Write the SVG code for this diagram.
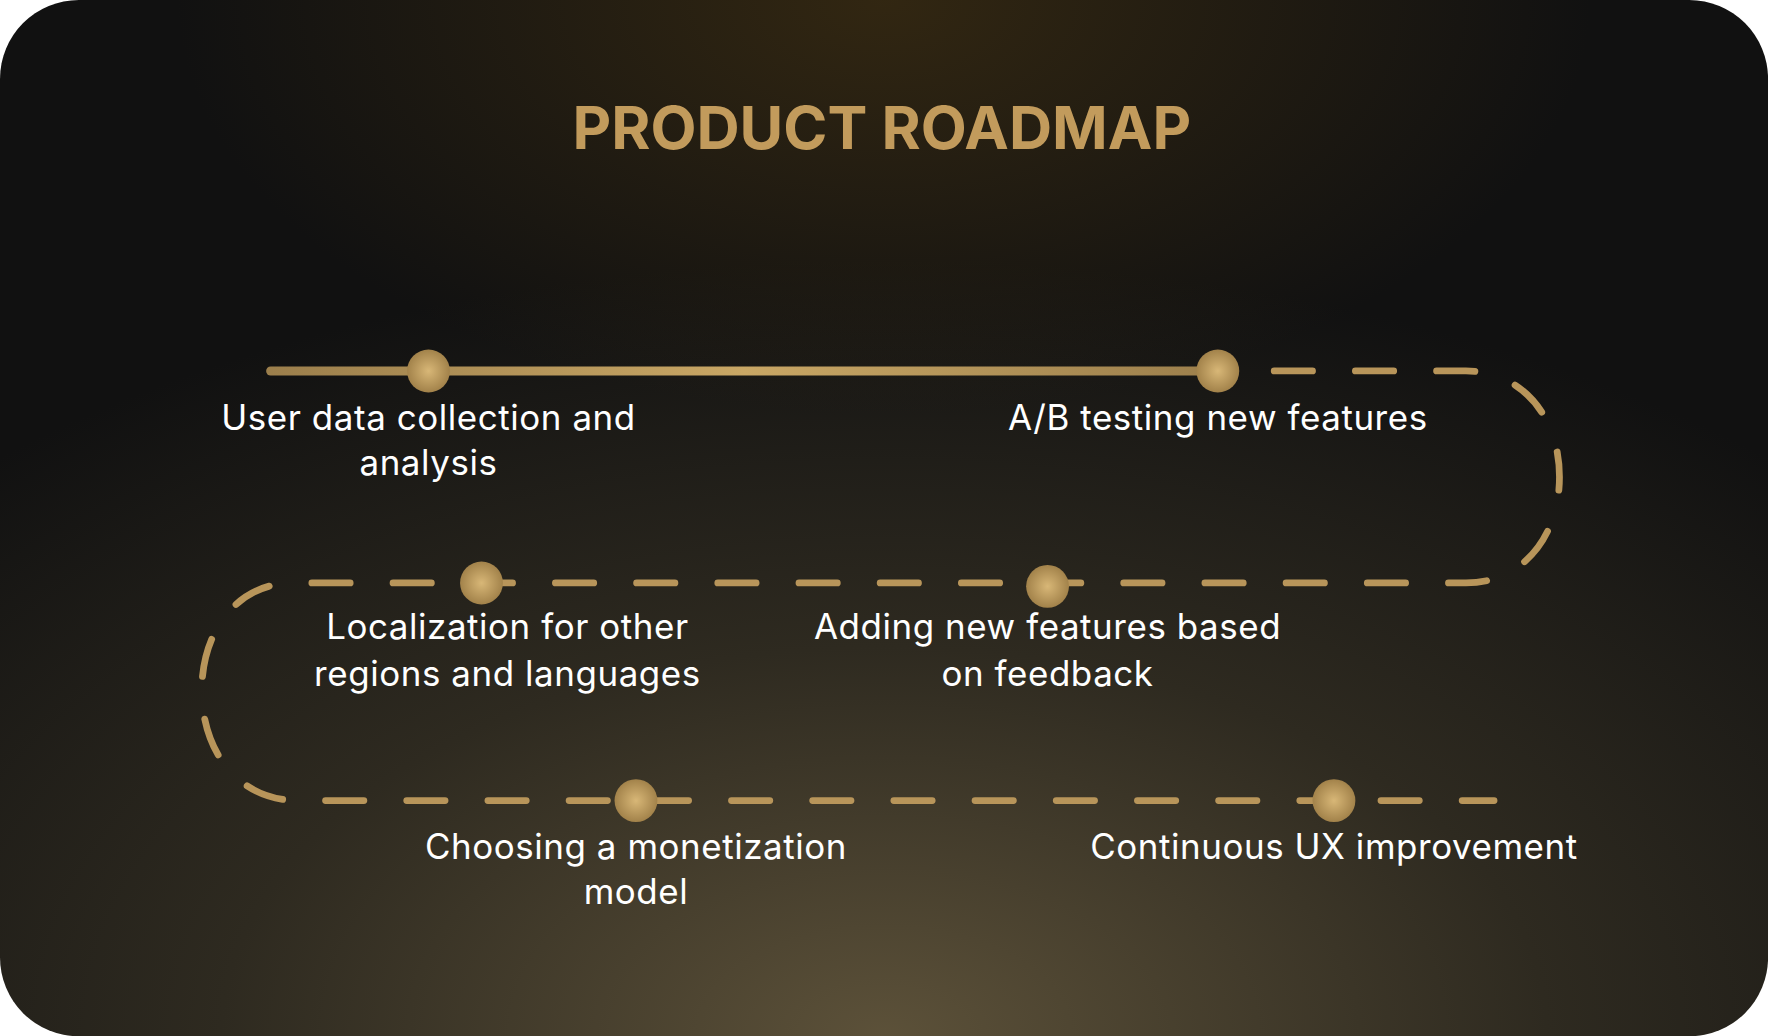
<svg xmlns="http://www.w3.org/2000/svg" width="1768" height="1036" viewBox="0 0 1768 1036">
<style>
.lbl{font-family:Inter,"Noto Sans",sans-serif;font-size:31px;letter-spacing:0.5px;fill:#ffffff;text-anchor:middle}
.dash{fill:none;stroke:#b8955a;stroke-width:6;stroke-linecap:round;stroke-dasharray:34 38}
</style>
<defs>
<radialGradient id="bg1" cx="0.5" cy="1" r="0.75">
<stop offset="0" stop-color="#5c5139"/><stop offset="0.5" stop-color="#2e2a20"/><stop offset="1" stop-color="#111111"/>
</radialGradient>
<radialGradient id="bg2" cx="0.5" cy="0" r="0.4">
<stop offset="0" stop-color="#3a2c12" stop-opacity="0.8"/><stop offset="1" stop-color="#3a2c12" stop-opacity="0"/>
</radialGradient>
<linearGradient id="solid" gradientUnits="userSpaceOnUse" x1="240" y1="0" x2="1080" y2="0">
<stop offset="0" stop-color="#9c7f4c"/><stop offset="0.5" stop-color="#c9a765"/><stop offset="1" stop-color="#9c7f4c"/>
</linearGradient>
<radialGradient id="node" cx="0.5" cy="0.5" r="0.5">
<stop offset="0" stop-color="#d8b777"/><stop offset="1" stop-color="#a2824a"/>
</radialGradient>
</defs>
<rect width="1768" height="1036" fill="#ffffff"/>
<g transform="scale(1.1276)">
<rect width="1568" height="919" rx="70" fill="url(#bg1)"/>
<rect width="1568" height="919" rx="70" fill="url(#bg2)"/>
<text x="782" y="132" font-family="Inter,'Noto Sans',sans-serif" font-size="53" font-weight="700" fill="#c29b5c" text-anchor="middle">PRODUCT ROADMAP</text>
<g id="connectors">
<line x1="240" y1="329" x2="1080" y2="329" stroke="url(#solid)" stroke-width="8" stroke-linecap="round"/>
<path class="dash" d="M1130 329 H1300 C1350 329 1383 370 1383 423 C1383 476 1350 517 1300 517 H260 C210 517 179 560 179 612 C179 665 210 710 265 710 H1325"/>
</g>
<g id="n1"><circle cx="380" cy="329" r="19" fill="url(#node)"/><text class="lbl" x="380" y="381">User data collection and</text><text class="lbl" x="380" y="421">analysis</text></g>
<g id="n2"><circle cx="1080" cy="329" r="19" fill="url(#node)"/><text class="lbl" x="1080" y="381">A/B testing new features</text></g>
<g id="n3"><circle cx="427" cy="517" r="19" fill="url(#node)"/><text class="lbl" x="450" y="567">Localization for other</text><text class="lbl" x="450" y="608">regions and languages</text></g>
<g id="n4"><circle cx="929" cy="520" r="19" fill="url(#node)"/><text class="lbl" x="929" y="567">Adding new features based</text><text class="lbl" x="929" y="608">on feedback</text></g>
<g id="n5"><circle cx="564" cy="710" r="19" fill="url(#node)"/><text class="lbl" x="564" y="762">Choosing a monetization</text><text class="lbl" x="564" y="802">model</text></g>
<g id="n6"><circle cx="1183" cy="710" r="19" fill="url(#node)"/><text class="lbl" x="1183" y="762">Continuous UX improvement</text></g>
</g>
</svg>
